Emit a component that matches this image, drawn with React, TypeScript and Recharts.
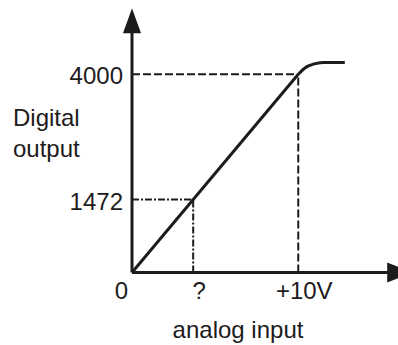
import { LineChart, Line, XAxis, YAxis, ReferenceLine, ReferenceDot, Label } from 'recharts';

// transfer curve
const rampVolts = [0, 10];
const rampCodes = [0, 4000];
const kneeVolts = [10, 10.5, 10.9, 11.5, 12.8];
const kneeCodes = [4000, 4150, 4205, 4240, 4240];

const yTicks = [1472, 4000];
const xTicks = [0, 3.68, 10];
const xTickLabels = ['0', '?', '+10V'];

const FULL_SCALE_V = 10;
const FULL_SCALE_CODE = 4000;
const MARK_V = 3.68;
const MARK_CODE = 1472;

const X_MAX = 16;
const Y_MAX = 5500;
const X_ARROW_BASE = 15.35;
const Y_ARROW_BASE = 4830;

const INK = '#1e1b1c';
const FONT = '"Liberation Sans", Arial, sans-serif';

const rows: { v: number; ramp?: number; knee?: number }[] = [];
rampVolts.forEach((v, i) => rows.push({ v, ramp: rampCodes[i] }));
kneeVolts.forEach((v, i) => {
    const hit = rows.find((r) => r.v === v);
    if (hit) hit.knee = kneeCodes[i];
    else rows.push({ v, knee: kneeCodes[i] });
});

function XTick(props: any) {
    const { x, payload } = props;
    const idx = xTicks.indexOf(payload.value);
    const isZero = payload.value === 0;
    return (
        <text
            x={isZero ? x - 4 : x + 6}
            y={299}
            textAnchor={isZero ? 'end' : 'middle'}
            fill={INK}
            fontSize={24}
            fontFamily={FONT}
        >
            {xTickLabels[idx]}
        </text>
    );
}

function YTick(props: any) {
    const { y, payload } = props;
    return (
        <text x={123} y={y + 10} textAnchor="end" fill={INK} fontSize={24} fontFamily={FONT}>
            {payload.value}
        </text>
    );
}

const upArrow = (p: any) => (
    <polygon points={`${p.cx - 9},${p.cy} ${p.cx},${p.cy - 25} ${p.cx + 9},${p.cy}`} fill={INK} />
);
const rightArrow = (p: any) => (
    <polygon points={`${p.cx},${p.cy - 10} ${p.cx + 25},${p.cy} ${p.cx},${p.cy + 10}`} fill={INK} />
);

export default function App() {
    return (
        <div style={{ position: 'absolute', left: 0, top: 0, background: '#fff' }}>
            <LineChart width={398} height={345} data={rows} margin={{ top: 0, right: 0, bottom: 0, left: 0 }}>
                <XAxis
                    type="number"
                    dataKey="v"
                    domain={[0, X_MAX]}
                    ticks={xTicks}
                    height={72.5}
                    axisLine={false}
                    tickLine={false}
                    tick={<XTick />}
                    interval={0}
                >
                    <Label
                        content={() => (
                            <text x={238} y={338} textAnchor="middle" fill={INK} fontSize={24} fontFamily={FONT}>
                                analog input
                            </text>
                        )}
                    />
                </XAxis>
                <YAxis
                    type="number"
                    domain={[0, Y_MAX]}
                    ticks={yTicks}
                    width={132}
                    axisLine={false}
                    tickLine={false}
                    tick={<YTick />}
                    interval={0}
                >
                    <Label
                        content={() => (
                            <text fill={INK} fontSize={24} fontFamily={FONT}>
                                <tspan x={13} y={126}>Digital</tspan>
                                <tspan x={13} y={157}>output</tspan>
                            </text>
                        )}
                    />
                </YAxis>

                <ReferenceLine
                    segment={[{ x: 0, y: FULL_SCALE_CODE }, { x: FULL_SCALE_V, y: FULL_SCALE_CODE }]}
                    stroke={INK}
                    strokeWidth={2}
                    strokeDasharray="8 3"
                />
                <ReferenceLine
                    segment={[{ x: FULL_SCALE_V, y: 0 }, { x: FULL_SCALE_V, y: FULL_SCALE_CODE }]}
                    stroke={INK}
                    strokeWidth={2}
                    strokeDasharray="8 3"
                />
                <ReferenceLine
                    segment={[{ x: 0, y: MARK_CODE }, { x: MARK_V, y: MARK_CODE }]}
                    stroke={INK}
                    strokeWidth={2}
                    strokeDasharray="7 2 2 2"
                />
                <ReferenceLine
                    segment={[{ x: MARK_V, y: 0 }, { x: MARK_V, y: MARK_CODE }]}
                    stroke={INK}
                    strokeWidth={2}
                    strokeDasharray="7 2 2 2"
                />

                <Line
                    dataKey="ramp"
                    type="linear"
                    stroke={INK}
                    strokeWidth={3}
                    dot={false}
                    activeDot={false}
                    isAnimationActive={false}
                />
                <Line
                    dataKey="knee"
                    type="monotone"
                    stroke={INK}
                    strokeWidth={3}
                    dot={false}
                    activeDot={false}
                    isAnimationActive={false}
                />

                <ReferenceLine
                    segment={[{ x: 0, y: 0 }, { x: 0, y: Y_ARROW_BASE + 100 }]}
                    stroke={INK}
                    strokeWidth={3}
                    ifOverflow="visible"
                />
                <ReferenceLine
                    segment={[{ x: 0, y: 0 }, { x: X_ARROW_BASE + 0.2, y: 0 }]}
                    stroke={INK}
                    strokeWidth={3}
                    ifOverflow="visible"
                />
                <ReferenceDot x={0} y={Y_ARROW_BASE} ifOverflow="visible" shape={upArrow} />
                <ReferenceDot x={X_ARROW_BASE} y={0} ifOverflow="visible" shape={rightArrow} />
            </LineChart>
        </div>
    );
}
